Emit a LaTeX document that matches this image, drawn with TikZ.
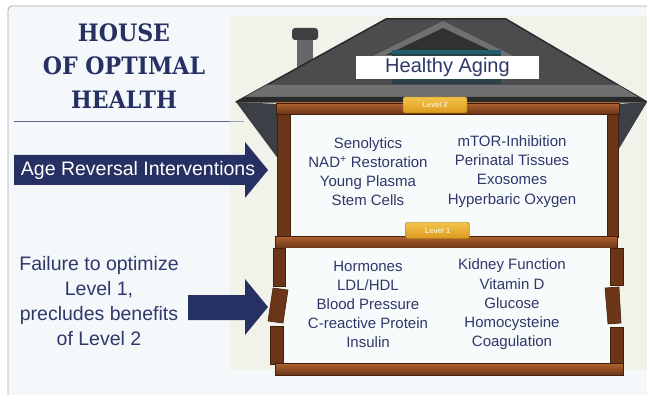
\documentclass[tikz,border=0pt]{standalone}
\usepackage{fontspec}
\setmainfont{Liberation Sans}
\newfontfamily\slabfont{DejaVu Serif}[FakeStretch=0.92]
\usepackage{tikz}
\usetikzlibrary{positioning}
\definecolor{hoNavy}{HTML}{263062}
\definecolor{hoInk}{HTML}{2E386A}
\definecolor{hoPanel}{HTML}{F4F8FA}
\definecolor{hoFrame}{HTML}{A8AAB0}
\definecolor{hoLot}{HTML}{F1F3EB}
\definecolor{hoRoof}{HTML}{4C4C4F}
\definecolor{hoRoofLight}{HTML}{707073}
\definecolor{hoRoofDark}{HTML}{2A2A2C}
\definecolor{hoEave}{HTML}{3D3F46}
\definecolor{hoWood}{HTML}{6B3518}
\definecolor{hoWoodLight}{HTML}{B0642F}
\definecolor{hoWoodDark}{HTML}{43200C}
\definecolor{hoGold}{HTML}{DB9A1E}
\definecolor{hoGoldLight}{HTML}{F3C44A}
\definecolor{hoRoom}{HTML}{F8FBFC}
\definecolor{hoTeal}{HTML}{2B7788}
\newcommand{\sizedfont}[2]{\fontsize{#1}{#2}\selectfont}
\tikzset{
  plank/.style={fill=hoWood,draw=hoWoodDark,line width=0.6pt},
  beam/.style={plank,top color=hoWoodLight,bottom color=hoWood},
  tag/.style={draw=hoGold!70!black,line width=0.4pt,rounded corners=1.5pt,
    top color=hoGoldLight,bottom color=hoGold,minimum width=64pt,minimum height=16pt,
    inner sep=0pt,font=\sizedfont{7.5}{8}\bfseries,text=hoGoldLight!35!white},
  itemlist/.style={align=center,text=hoInk,inner sep=0pt,font=\sizedfont{15}{19.2}},
  bigtext/.style={align=center,inner sep=0pt,font=\sizedfont{19.5}{25.3}},
  blockarrow/.style={fill=hoNavy}
}

\begin{document}
\begin{tikzpicture}[x=1pt,y=-1pt]
  \useasboundingbox (0,0) rectangle (647,395);
  \fill[white] (0,0) rectangle (647,395);
  \draw[hoFrame,fill=hoPanel,line width=0.8pt,rounded corners=4pt] (8,6) rectangle (680,430);
  \fill[hoLot] (230,16) rectangle (647,370);

  % title block
  \node[align=center,text=hoNavy,inner sep=0pt,font=\slabfont\bfseries\sizedfont{24}{33.5}]
    (title) at (124,66) {HOUSE\\OF OPTIMAL\\HEALTH};
  \draw[line width=1pt,color=hoNavy!75!white] (14,122) -- (230,122);
  \draw[line width=1pt,color=hoNavy!45!white] (230,122) -- (244,122);

  % chimney and roof
  \fill[hoRoof!85!white] (297,38) rectangle (313,72);
  \fill[hoRoofDark!90!white,rounded corners=3pt] (292,28) rectangle (318,40);
  \draw[hoRoofDark,fill=hoRoof,line width=1.5pt,line join=round]
    (236,102) -- (386,19) -- (506,19) -- (647,102) -- cycle;
  \fill[hoRoofLight] (267,85) -- (618,85) -- (638,97) -- (245,97) -- cycle;
  \fill[hoRoofDark] (245,97) -- (638,97) -- (645,101) -- (238,101) -- cycle;
  \fill[hoRoofLight] (371,57) -- (443,21) -- (515,57) -- cycle;
  \fill[hoRoofDark!80!hoRoof] (386,55) -- (443,28) -- (500,55) -- cycle;
  \fill[hoRoofDark!70!hoTeal] (392,50) rectangle (501,84);
  \fill[hoTeal!80!black] (392,50) rectangle (501,54);
  \node[fill=white,inner sep=0pt,minimum width=183pt,minimum height=23pt,
    text=hoInk,font=\sizedfont{20}{24}] (goal) at (447.5,67.5) {Healthy Aging};
  \fill[hoEave] (236,102) -- (279,104) -- (279,160) -- cycle;
  \fill[hoEave] (647,102) -- (617,104) -- (617,152) -- cycle;

  % upper storey
  \fill[hoRoom] (290,114) rectangle (607,237);
  \draw[beam] (276,103) rectangle (619,114);
  \draw[plank] (277,114) rectangle (290,237);
  \draw[plank] (607,114) rectangle (618,237);
  \draw[beam] (275,236) rectangle (617,248);

  % lower storey with cracked walls
  \fill[hoRoom] (285,248) rectangle (610,363);
  \draw[plank] (273,248) rectangle (285,286);
  \draw[plank] (273,288) -- (288,290) -- (283,323) -- (268,321) -- cycle;
  \draw[plank] (270,326) rectangle (283,364);
  \draw[plank] (610,248) rectangle (623,285);
  \draw[plank] (605,288) -- (619,287) -- (621,323) -- (608,324) -- cycle;
  \draw[plank] (610,327) rectangle (623,364);
  \draw[beam] (275,363) rectangle (623,375);

  \node[tag] (levelTwo) at (435,105) {Level 2};
  \node[tag] (levelOne) at (437.5,230.5) {Level 1};

  \node[itemlist] (upperLeft) at (368,171.5)
    {Senolytics\\NAD\textsuperscript{+} Restoration\\Young Plasma\\Stem Cells};
  \node[itemlist] (upperRight) at (512,171.5)
    {mTOR-Inhibition\\Perinatal Tissues\\Exosomes\\Hyperbaric Oxygen};
  \node[itemlist] (lowerLeft) at (368,304.5)
    {Hormones\\LDL/HDL\\Blood Pressure\\C-reactive Protein\\Insulin};
  \node[itemlist] (lowerRight) at (512,304.5)
    {Kidney Function\\Vitamin D\\Glucose\\Homocysteine\\Coagulation};

  % pointers into the house
  \fill[blockarrow] (14,155) -- (245,155) -- (245,142) -- (268,170)
    -- (245,198) -- (245,185) -- (14,185) -- cycle;
  \node[bigtext,text=white] (ageText) at (138,170) {Age Reversal Interventions};
  \fill[blockarrow] (188,295) -- (245,295) -- (245,279) -- (268,307)
    -- (245,335) -- (245,320) -- (188,320) -- cycle;
  \node[bigtext,text=hoInk] (failText) at (99,301)
    {Failure to optimize\\Level 1,\\precludes benefits\\of Level 2};
\end{tikzpicture}
\end{document}
